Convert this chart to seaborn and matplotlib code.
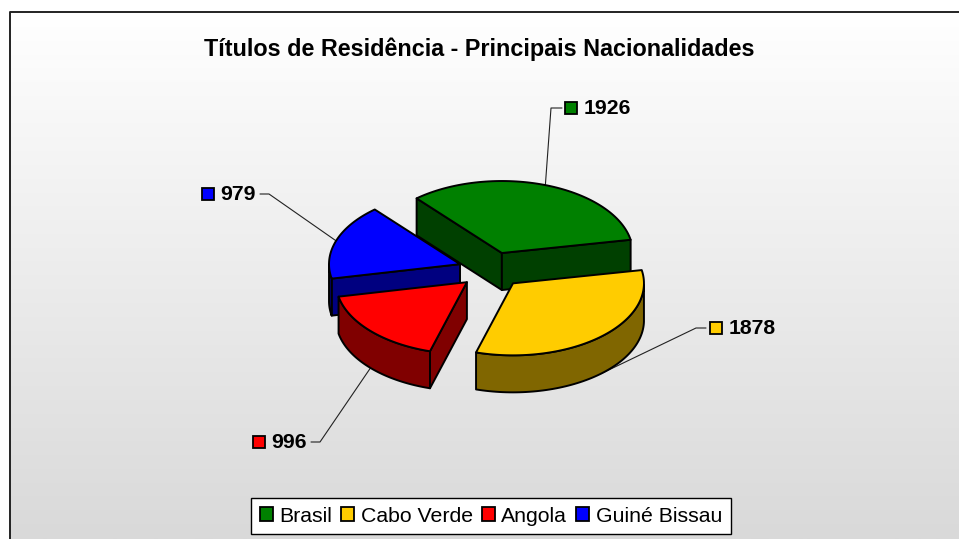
import numpy as np
import matplotlib
matplotlib.use("Agg")
import matplotlib.pyplot as plt
from matplotlib.patches import Polygon, Patch, Rectangle
import seaborn as sns

title = "Títulos de Residência - Principais Nacionalidades"
categories = ["Brasil", "Cabo Verde", "Angola", "Guiné Bissau"]
values = [1926, 1878, 996, 979]
top_colors = ["#008000", "#FFCC00", "#FF0000", "#0000FF"]

sns.set_theme(style="white")
plt.rcParams['font.family'] = ['Liberation Sans', 'DejaVu Sans']

# Geometry of the fake 3D pie, in pixels
center = (491, 270)
rx, ry = 131, 72
depth = 37
explode = 0.25
start_angle = 130.6
edge_lw = 1.4

# Where each value label sits: (marker x, marker y, elbow x, line end x)
label_layout = [
    (571, 108, 551, 562),
    (716, 328, 696, 706),
    (259, 442, 320, 311),
    (208, 194, 269, 260),
]


# Makes a lighter-to-darker background like the old Excel fill
def draw_background(ax):
    gradient = np.linspace(0, 1, 256).reshape(-1, 1)
    cmap = matplotlib.colors.LinearSegmentedColormap.from_list("bg", ["#FFFFFF", "#D9D9D9"])
    ax.imshow(gradient, extent=(10, 959, 539, 12), cmap=cmap, aspect="auto", zorder=0)
    ax.plot([10, 10, 959], [539, 12, 12], color="#222222", lw=1.4, zorder=1)


# Angle ranges of the slices, clockwise from start_angle
def slice_angles(vals):
    sweep = np.array(vals) / np.sum(vals) * 360
    ends = start_angle - np.cumsum(sweep)
    starts = ends + sweep
    return starts, ends


def ellipse_point(cx, cy, angle):
    rad = np.deg2rad(angle)
    return cx + rx * np.cos(rad), cy - ry * np.sin(rad)


def extrude(points):
    points = np.asarray(points)
    return np.vstack([points, (points + [0, depth])[::-1]])


def draw_slice(ax, a0, a1, color, order):
    side = tuple(np.array(matplotlib.colors.to_rgb(color)) * 0.5)
    mid = (a0 + a1) / 2
    mid_rad = np.deg2rad(mid)
    cx = center[0] + explode * rx * np.cos(mid_rad)
    cy = center[1] - explode * ry * np.sin(mid_rad)

    angles = np.linspace(a0, a1, 80)
    xs, ys = ellipse_point(cx, cy, angles)
    arc = np.column_stack([xs, ys])
    apex = np.array([cx, cy])
    style = dict(edgecolor="black", lw=edge_lw, joinstyle="round", zorder=order)

    # Cut faces: only the ones turned towards the viewer get drawn
    for p, q in [(apex, arc[0]), (arc[-1], apex)]:
        if q[0] < p[0]:
            ax.add_patch(Polygon(extrude([p, q]), closed=True, facecolor=side, **style))

    # Rim, only the part that faces the viewer
    front = np.sin(np.deg2rad(angles)) <= 0
    if front.sum() > 1:
        ax.add_patch(Polygon(extrude(arc[front]), closed=True, facecolor=side, **style))

    ax.add_patch(Polygon(np.vstack([apex, arc]), closed=True, facecolor=color, **style))
    return cx, cy, mid


# Leader line, square marker and the bold number of one slice
def draw_label(ax, anchor, layout, value, color):
    mx, my, elbow_x, end_x = layout
    ax.plot([anchor[0], elbow_x, end_x], [anchor[1], my, my], color="#222222", lw=0.8, zorder=1.5)
    ax.add_patch(Rectangle((mx - 6, my - 6), 12, 12, facecolor=color, edgecolor="black", lw=1.3, zorder=10))
    ax.text(mx + 12.5, my + 0.5, str(value), fontsize=15.3, fontweight="bold", color="black",
            va="center", ha="left", zorder=10)


fig = plt.figure(figsize=(9.59, 5.39), dpi=100)
ax = fig.add_axes([0, 0, 1, 1])
draw_background(ax)
ax.set_xlim(0, 959)
ax.set_ylim(539, 0)
ax.axis("off")

ax.text(479.5, 49.5, title, fontsize=16.85, fontweight="bold", color="black", ha="center", va="center")

starts, ends = slice_angles(values)
# back slices first so the front ones overlap them
paint_order = {0: 2, 3: 3, 2: 4, 1: 5}
for i, color in enumerate(top_colors):
    cx, cy, mid = draw_slice(ax, starts[i], ends[i], color, paint_order[i])
    ax_x, ax_y = ellipse_point(cx, cy, mid)
    if np.sin(np.deg2rad(mid)) < 0:
        ax_y += depth
    draw_label(ax, (ax_x, ax_y), label_layout[i], values[i], color)

handles = [Patch(facecolor=c, edgecolor="black", lw=1.3, label=n) for c, n in zip(top_colors, categories)]
ax.legend(handles=handles, ncol=4, loc="center", bbox_to_anchor=(491, 516),
          bbox_transform=ax.transData, frameon=True, fancybox=False, framealpha=1,
          facecolor="white", edgecolor="black", labelcolor="black", fontsize=15.3,
          handlelength=0.6, handleheight=0.6, handletextpad=0.32, columnspacing=0.42,
          borderpad=0.42, borderaxespad=0)

plt.savefig("out.png", dpi=100)
plt.close(fig)
